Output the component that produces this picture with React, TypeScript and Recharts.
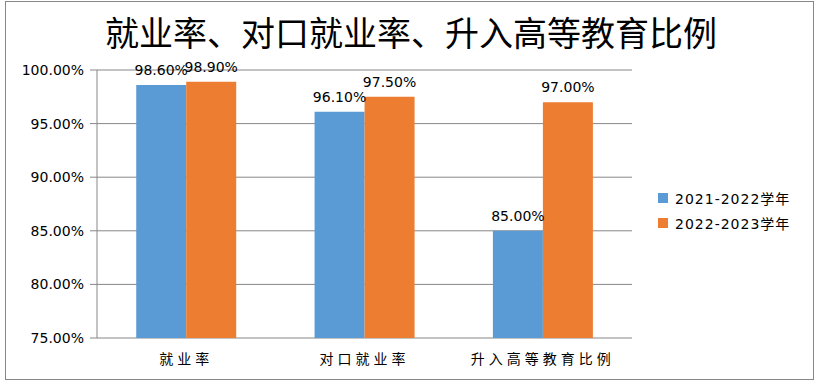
import { BarChart, Bar, XAxis, YAxis, CartesianGrid, Legend, LabelList } from "recharts";

const categories = ["就业率", "对口就业率", "升入高等教育比例"];
const series2122 = [98.6, 96.1, 85.0];
const series2223 = [98.9, 97.5, 97.0];
const yTicks = [75, 80, 85, 90, 95, 100];
const seriesNames = ["2021-2022学年", "2022-2023学年"];

const data = categories.map((name, i) => ({
  name,
  idx: i,
  a: series2122[i],
  b: series2223[i],
}));

const gray = "#878787";
const numFont = "'DejaVu Sans', 'Noto Sans CJK SC', sans-serif";
const pct = (v: number) => `${Number(v).toFixed(2)}%`;

function LegendBox(props: any) {
  const items = props.payload || [];
  return (
    <div style={{ fontFamily: numFont, fontSize: 14, color: "#000", letterSpacing: 1 }}>
      {items.map((it: any) => (
        <div
          key={it.value}
          style={{ display: "flex", alignItems: "center", height: 25 }}
        >
          <span
            style={{
              width: 10,
              height: 10,
              background: it.color,
              display: "inline-block",
              marginRight: 7,
            }}
          />
          <span>{it.value}</span>
        </div>
      ))}
    </div>
  );
}

export default function App() {
  return (
    <div
      style={{
        position: "absolute",
        left: 0,
        top: 0,
        width: 820,
        height: 386,
        background: "#fff",
      }}
    >
      <div
        style={{
          position: "absolute",
          left: 5,
          top: 1,
          width: 807,
          height: 377,
          border: `1px solid ${gray}`,
        }}
      />
      <div
        style={{
          position: "absolute",
          left: 0,
          top: 15,
          width: 822,
          textAlign: "center",
          fontFamily: "'Noto Sans CJK SC', sans-serif",
          fontSize: 34,
          lineHeight: "34px",
          color: "#000",
        }}
      >
        就业率、对口就业率、升入高等教育比例
      </div>
      <BarChart
        width={820}
        height={386}
        data={data}
        margin={{ top: 70, right: 38, bottom: 0, left: 0 }}
        barCategoryGap="22%"
        barGap={0}
      >
        <CartesianGrid vertical={false} stroke={gray} />
        <XAxis
          xAxisId="edge"
          dataKey="idx"
          type="number"
          domain={[0, 3]}
          ticks={[0, 1, 2, 3]}
          height={0}
          tickSize={6}
          stroke={gray}
          tickFormatter={() => ""}
          allowDataOverflow
        />
        <XAxis
          dataKey="name"
          height={48}
          axisLine={false}
          tickLine={false}
          interval={0}
          tickMargin={10}
          tick={{
            fill: "#000",
            fontSize: 14,
            fontFamily: "'Noto Sans CJK SC', sans-serif",
            letterSpacing: 4,
          }}
        />
        <YAxis
          width={97}
          domain={[75, 100]}
          ticks={yTicks}
          interval={0}
          stroke={gray}
          tickSize={7}
          tickMargin={6}
          tickFormatter={pct}
          tick={{ fill: "#000", fontSize: 14, fontFamily: numFont }}
        />
        <Legend
          layout="vertical"
          align="right"
          verticalAlign="middle"
          content={LegendBox}
          wrapperStyle={{ width: 150, left: 658, top: 185 }}
        />
        <Bar dataKey="a" name={seriesNames[0]} fill="#5B9BD5" isAnimationActive={false}>
          <LabelList
            dataKey="a"
            position="top"
            offset={10}
            formatter={(v: any) => pct(v)}
            style={{ fill: "#000", fontSize: 14, fontFamily: numFont }}
          />
        </Bar>
        <Bar dataKey="b" name={seriesNames[1]} fill="#ED7D31" isAnimationActive={false}>
          <LabelList
            dataKey="b"
            position="top"
            offset={10}
            formatter={(v: any) => pct(v)}
            style={{ fill: "#000", fontSize: 14, fontFamily: numFont }}
          />
        </Bar>
      </BarChart>
    </div>
  );
}
